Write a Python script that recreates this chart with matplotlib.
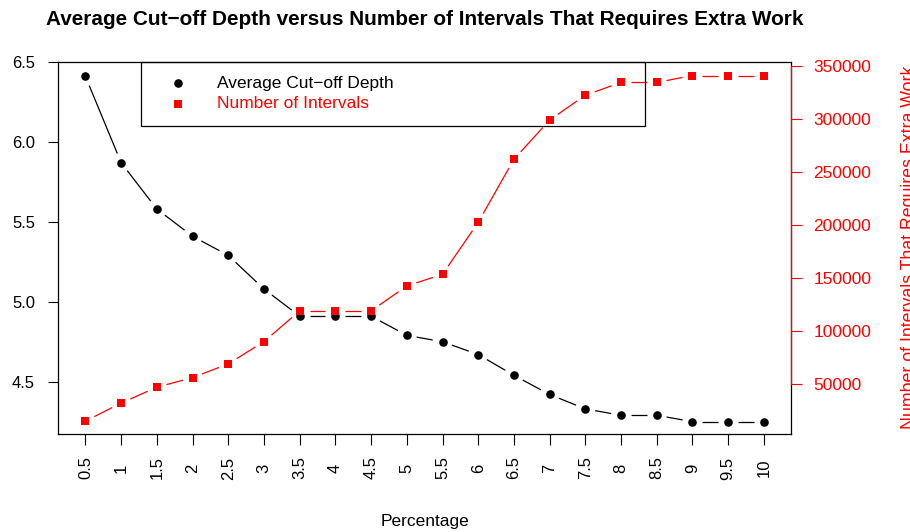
import numpy as np
import matplotlib
matplotlib.use("Agg")
import matplotlib.pyplot as plt
from matplotlib.patches import Rectangle
from matplotlib.lines import Line2D

plt.rcParams['font.family'] = ['Liberation Sans', 'DejaVu Sans']

# percentage thresholds (x axis)
percentage = [0.5, 1, 1.5, 2, 2.5, 3, 3.5, 4, 4.5, 5,
              5.5, 6, 6.5, 7, 7.5, 8, 8.5, 9, 9.5, 10]
pct_labels = ["0.5", "1", "1.5", "2", "2.5", "3", "3.5", "4", "4.5", "5",
              "5.5", "6", "6.5", "7", "7.5", "8", "8.5", "9", "9.5", "10"]

# average cut-off depth (left axis)
avg_depth = [6.41, 5.87, 5.58, 5.41, 5.29, 5.08, 4.91, 4.91, 4.91, 4.79,
             4.75, 4.67, 4.54, 4.42, 4.33, 4.29, 4.29, 4.25, 4.25, 4.25]

# number of intervals that require extra work (right axis)
n_intervals = [15000, 32000, 47000, 56000, 69000, 90000, 119000, 119000, 119000, 142500,
               153500, 202500, 262000, 299000, 322500, 334500, 334500, 341000, 341000, 341000]

left_ticks = [4.5, 5.0, 5.5, 6.0, 6.5]
right_ticks = [50000, 100000, 150000, 200000, 250000, 300000, 350000]

W, H = 910, 532
fig = plt.figure(figsize=(W / 100, H / 100), dpi=100)
ax = fig.add_axes([58.3 / W, (H - 434.3) / H, (791 - 58.3) / W, (434.3 - 62) / H])
ax2 = ax.twinx()

ax.set_xlim(0.12, 10.38)
ax.set_ylim(4.171, 6.5)
ax2.set_ylim(2550, 353800)

for s in ax.spines.values():
    s.set_color('black')
    s.set_linewidth(0.9)
for name, s in ax2.spines.items():
    s.set_visible(name == 'right')
ax2.spines['right'].set_color('red')
ax2.spines['right'].set_linewidth(0.9)
ax2.spines['right'].set_bounds(right_ticks[0], right_ticks[-1])


def draw_b(axis, x, y, color, lw, gap=10):
    # R-style type="b": segments stop short of each point
    pts = axis.transData.transform(np.column_stack([x, y]))
    inv = axis.transData.inverted()
    for p, q in zip(pts[:-1], pts[1:]):
        d = q - p
        L = np.hypot(*d)
        if L <= 2 * gap:
            continue
        u = d / L
        a = inv.transform(p + u * gap)
        b = inv.transform(q - u * gap)
        axis.plot([a[0], b[0]], [a[1], b[1]], color=color, lw=lw,
                  solid_capstyle='butt', zorder=2)


draw_b(ax, percentage, avg_depth, 'black', 0.9)
ax.plot(percentage, avg_depth, 'o', color='black', markersize=6.2,
        markeredgewidth=0, zorder=3)

draw_b(ax2, percentage, n_intervals, 'red', 0.9)
ax2.plot(percentage, n_intervals, 's', color='red', markersize=6.3,
         markeredgewidth=0, zorder=3)

# axes ticks
ax.set_yticks(left_ticks)
ax.set_yticklabels([f"{v:.1f}" for v in left_ticks], fontsize=12)
ax.tick_params(axis='y', direction='out', length=7.2, width=0.8, pad=9.5)
ax.set_xticks(percentage)
ax.set_xticklabels([])
ax.tick_params(axis='x', direction='out', length=8, width=0.8)
for xv, lab in zip(percentage, pct_labels):
    ax.text(xv, -0.0905, lab, transform=ax.get_xaxis_transform(),
            rotation=90, ha='center', va='center', fontsize=12)

ax2.set_yticks(right_ticks)
ax2.set_yticklabels([str(v) for v in right_ticks], fontsize=12.5, color='red')
ax2.tick_params(axis='y', direction='out', length=8, width=0.8, color='red', pad=8)

# labels and title
fig.text(424.5 / W, 1 - 19.6 / H,
         "Average Cut\u2212off Depth versus Number of Intervals That Requires Extra Work",
         ha='center', va='center', fontsize=14.95, fontweight='bold')
fig.text(424.5 / W, 1 - 521.4 / H, "Percentage", ha='center', va='center', fontsize=12.5)
fig.text(910 / W, 1 - 247.5 / H, "Number of Intervals That Requires Extra Work",
         rotation=90, ha='center', va='center', fontsize=12.8, color='red')

# legend box
def fx(px):
    return px / W


def fy(py):
    return 1 - py / H


fig.patches.append(Rectangle((fx(141), fy(126)), fx(645) - fx(141), fy(62) - fy(126),
                             transform=fig.transFigure, fill=False,
                             edgecolor='black', lw=0.9, zorder=5))
fig.lines.append(Line2D([fx(178)], [fy(83.3)], marker='o', color='black',
                        markersize=6.2, markeredgewidth=0, transform=fig.transFigure))
fig.lines.append(Line2D([fx(178)], [fy(104)], marker='s', color='red',
                        markersize=6.3, markeredgewidth=0, transform=fig.transFigure))
fig.text(fx(217), fy(83.3), "Average Cut\u2212off Depth", ha='left', va='center',
         fontsize=12.5, color='black')
fig.text(fx(217), fy(104), "Number of Intervals", ha='left', va='center',
         fontsize=12.5, color='red')

fig.savefig("out.png", dpi=100)
